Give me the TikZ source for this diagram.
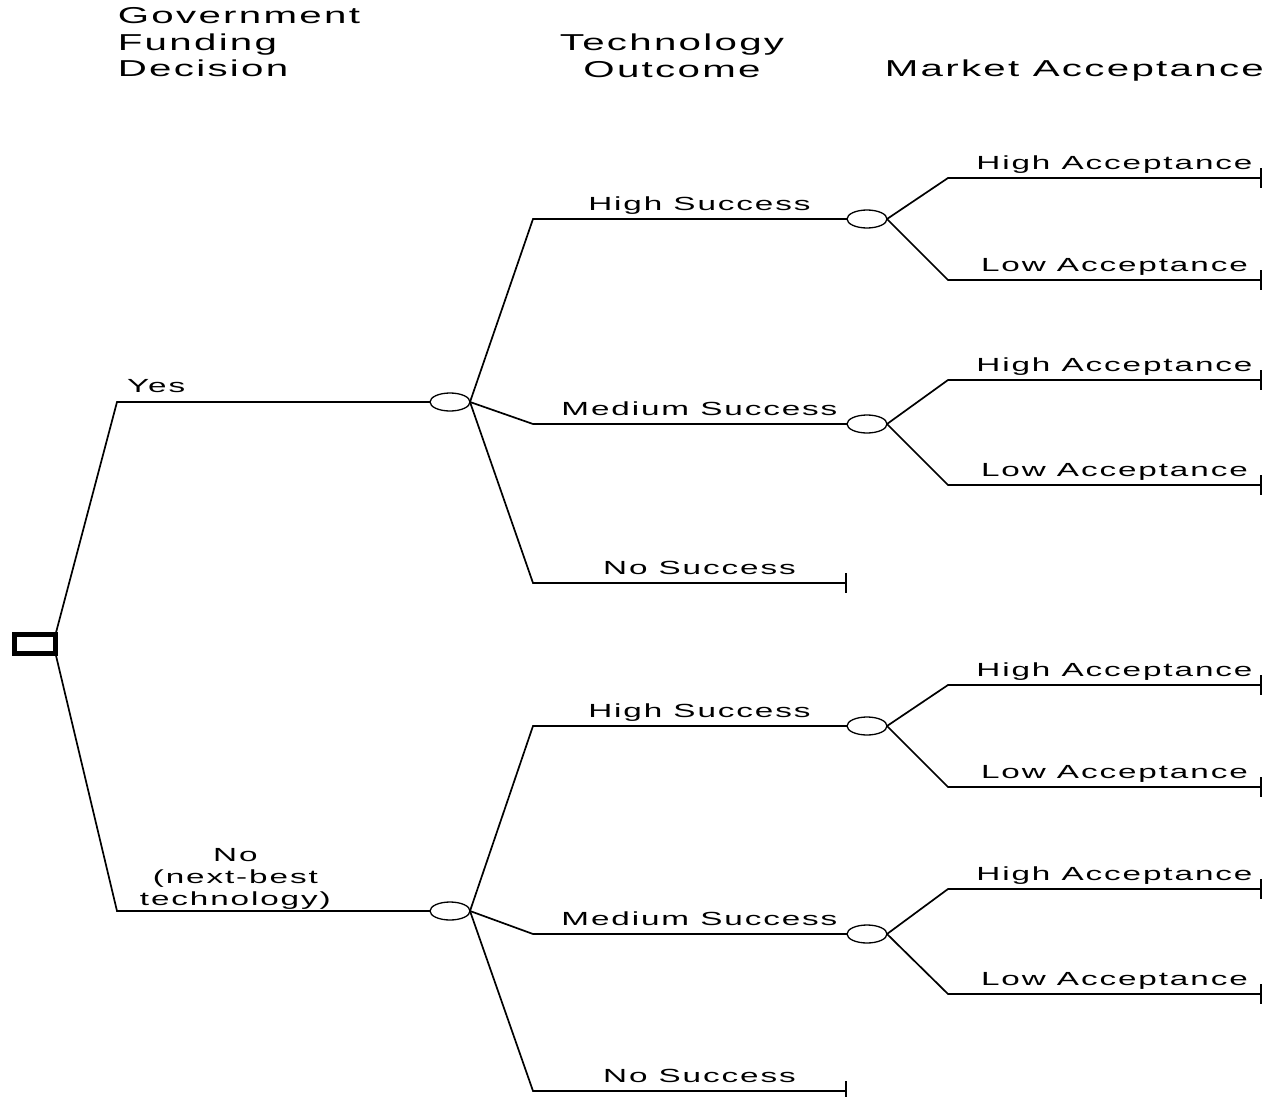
\documentclass[tikz,border=0pt]{standalone}
\usepackage{fontspec}
\setmainfont{Liberation Sans}
\newfontfamily\treefont{Liberation Sans}[FakeStretch=1.75,LetterSpace=10]
\usepackage{tikz}
\usetikzlibrary{arrows.meta,shapes.geometric}

\begin{document}
\begin{tikzpicture}[x=1pt, y=-1pt, line width=1.7pt]
\tikzset{dec/.style={draw, line width=5pt, minimum width=41pt, minimum height=19pt, inner sep=0pt, outer sep=0pt}, chance/.style={ellipse, draw, line width=1.3pt, minimum width=40pt, minimum height=18pt, inner sep=0pt, outer sep=0pt}, lbl/.style={font=\treefont\fontsize{19}{22}\selectfont, anchor=base, yshift=9pt, inner sep=0pt}, head/.style={font=\treefont\fontsize{23}{26.5}\selectfont, inner sep=0pt}, endtick/.style={-{Bar[width=20pt, line width=2.2pt]}}}
\useasboundingbox (0,0) rectangle (1266,1097);
% stage headings
\node[head, anchor=north west, align=left] (hfund) at (117,7) {Government\\Funding\\Decision};
\node[head, anchor=north, align=center] (htech) at (672,33) {Technology\\Outcome};
\node[head, anchor=base west] (hmkt) at (884,77) {Market Acceptance};
% columns
\coordinate (fcol) at (117,0); \coordinate (tcol) at (533,0); \coordinate (acol) at (948,0);
% decision and chance nodes
\node[dec] (fund) at (35,644) {};
\node[chance] (yes) at (450,402) {};
\node[chance] (no) at (450,911) {};
\node[chance] (yhi) at (867,219) {};
\node[chance] (ymed) at (867,424) {};
\node[chance] (nhi) at (867,726) {};
\node[chance] (nmed) at (867,934) {};
\coordinate (ynone) at (847,583); \coordinate (nnone) at (847,1091);
% funding decision
\draw (fund.north east) -- (yes.west -| fcol) -- node[lbl, pos=.125, yshift=1pt]{Yes} (yes.west);
\draw (fund.south east) -- (no.west -| fcol) -- node[pos=.378, anchor=south, yshift=1pt, inner sep=0pt, align=center, font=\treefont\fontsize{19}{22}\selectfont]{No\\(next-best\\technology)} (no.west);
% technology outcome
\foreach \s/\h/\m/\n in {yes/yhi/ymed/ynone, no/nhi/nmed/nnone} {
  \draw (\s.east) -- (\h.west -| tcol) -- node[lbl, pos=.53]{High Success} (\h.west);
  \draw (\s.east) -- (\m.west -| tcol) -- node[lbl, pos=.53]{Medium Success} (\m.west);
  \draw[endtick] (\s.east) -- (\n -| tcol) -- node[lbl, pos=.53]{No Success} (\n);
}
% market acceptance
\foreach \c/\hy/\ly in {yhi/178/280, ymed/380/485, nhi/685/787, nmed/889/994} {
  \coordinate (\c H) at (1262,\hy); \coordinate (\c L) at (1262,\ly);
  \draw[endtick] (\c.east) -- (\c H -| acol) -- node[lbl, pos=.53]{High Acceptance} (\c H);
  \draw[endtick] (\c.east) -- (\c L -| acol) -- node[lbl, pos=.53]{Low Acceptance} (\c L);
}
\end{tikzpicture}
\end{document}
